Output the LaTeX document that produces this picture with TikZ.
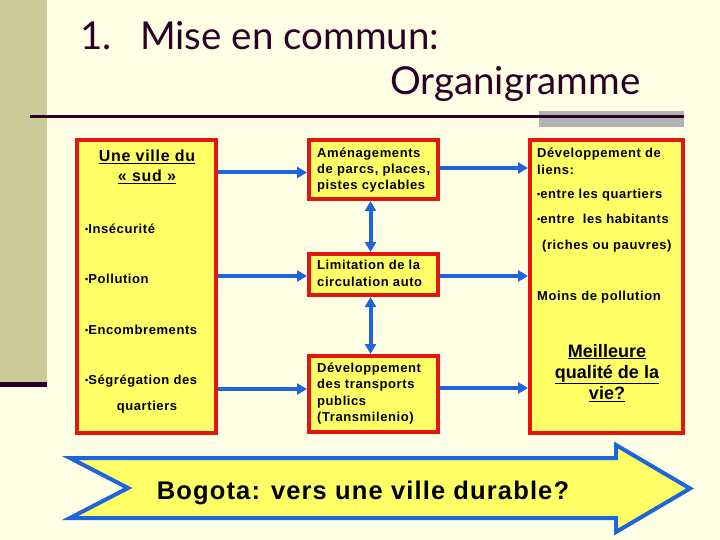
\documentclass[tikz,border=0pt]{standalone}
\usepackage{fontspec}
\setmainfont{Liberation Sans}
\newfontfamily\boxfont[LetterSpace=4.5]{Liberation Sans}
\newfontfamily\plainfont{Liberation Sans}
\newfontfamily\titlefont{Lato}
\usetikzlibrary{arrows.meta,calc}
\definecolor{bgcream}{RGB}{255,255,229}
\definecolor{bartan}{RGB}{204,204,153}
\definecolor{darkplum}{RGB}{45,0,40}
\definecolor{greybar}{RGB}{178,178,178}
\definecolor{boxred}{RGB}{228,22,12}
\definecolor{boxyellow}{RGB}{255,255,102}
\definecolor{arrblue}{RGB}{30,100,220}
\newcommand{\smbul}{\raisebox{0.6pt}{\fontsize{9}{9}\selectfont•}}
\tikzset{
  box/.style={draw=boxred, line width=4pt, fill=boxyellow, inner sep=0pt},
  btxt/.style={inner sep=0pt, anchor=base west, font=\boxfont\bfseries\fontsize{13}{16}\selectfont},
  ctxt/.style={inner sep=0pt, anchor=base, font=\boxfont\bfseries\fontsize{13}{16}\selectfont},
  big/.style={inner sep=0pt, anchor=base, font=\plainfont\bfseries\fontsize{18}{20}\selectfont},
  ttl/.style={inner sep=0pt, anchor=base west, text=darkplum, font=\titlefont\fontsize{38.5}{40}\selectfont},
  arr/.style={draw=arrblue, line width=4pt, -{Triangle[length=10pt,width=11pt]}},
  darr/.style={draw=arrblue, line width=4pt, {Triangle[length=10pt,width=11pt]}-{Triangle[length=10pt,width=11pt]}}
}
\begin{document}
\begin{tikzpicture}[x=1pt,y=-1pt]
\useasboundingbox (0,0) rectangle (720,540);
\fill[bgcream] (0,0) rectangle (720,540);
% left bar
\fill[bartan] (0,0) rectangle (47,383);
\fill[darkplum] (0,382) rectangle (47,387);
% title rule
\fill[greybar] (539,111) rectangle (684,127);
\draw[darkplum, line width=3pt] (30,117) -- (684,117);
% title
\node[ttl] (t1) at (80,50) {1.};
\node[ttl] (t2) at (140,50) {Mise en commun:};
\node[ttl] (t3) at (390,95) {Organigramme};
% boxes
\node[box, minimum width=139pt, minimum height=293pt] (L) at (146.5,286.5) {};
\node[box, minimum width=129pt, minimum height=59pt] (M1) at (373.5,169.5) {};
\node[box, minimum width=129pt, minimum height=41pt] (M2) at (373.5,274.5) {};
\node[box, minimum width=129pt, minimum height=76pt] (M3) at (373.5,394) {};
\node[box, minimum width=153pt, minimum height=293pt] (R) at (606.5,286.5) {};
% left box text
\node[ctxt, font=\boxfont\bfseries\fontsize{16}{18}\selectfont] (l1) at (147,161.5) {\underline{Une ville du}};
\node[ctxt, font=\boxfont\bfseries\fontsize{16}{18}\selectfont] (l2) at (147,181.5) {\underline{« sud »}};
\node[btxt] (l3) at (85,233.5) {\smbul Insécurité};
\node[btxt] (l4) at (85,283.5) {\smbul Pollution};
\node[btxt] (l5) at (85,334) {\smbul Encombrements};
\node[btxt] (l6) at (85,384) {\smbul Ségrégation des};
\node[ctxt] (l7) at (147,410) {quartiers};
% middle texts
\node[btxt] (a1) at (317,157.5) {Aménagements};
\node[btxt] (a2) at (317,173.5) {de parcs, places,};
\node[btxt] (a3) at (317,189.5) {pistes cyclables};
\node[btxt] (b1) at (317,269.5) {Limitation de la};
\node[btxt] (b2) at (317,286.5) {circulation auto};
\node[btxt] (c1) at (317,372) {Développement};
\node[btxt] (c2) at (317,388.5) {des transports};
\node[btxt] (c3) at (317,405) {publics};
\node[btxt] (c4) at (317,421.5) {(Transmilenio)};
% right texts
\node[btxt] (r1) at (537,157.5) {Développement de};
\node[btxt] (r2) at (537,174.5) {liens:};
\node[btxt] (r3) at (537,198.5) {\smbul entre les quartiers};
\node[btxt] (r4) at (537,223.5) {\smbul entre \ les habitants};
\node[btxt] (r5) at (542,249) {(riches ou pauvres)};
\node[btxt] (r6) at (537,300) {Moins de pollution};
\node[big] (r7) at (607,357) {\underline{Meilleure}};
\node[big] (r8) at (607,378.5) {\underline{qualité de la}};
\node[big] (r9) at (607,399.5) {\underline{vie?}};
% arrows left -> middle
\draw[arr] (L.east |- {$(M1.west)+(0,3)$}) -- ($(M1.west)+(0,3)$);
\draw[arr] (L.east |- {$(M2.west)+(0,1.5)$}) -- ($(M2.west)+(0,1.5)$);
\draw[arr] (L.east |- {$(M3.west)+(0,-5)$}) -- ($(M3.west)+(0,-5)$);
% arrows middle -> right
\draw[arr] ($(M1.east)+(0,-1.5)$) -- (R.west |- {$(M1.east)+(0,-1.5)$});
\draw[arr] ($(M2.east)+(0,1.5)$) -- (R.west |- {$(M2.east)+(0,1.5)$});
\draw[arr] ($(M3.east)+(0,-6)$) -- (R.west |- {$(M3.east)+(0,-6)$});
% vertical double arrows
\draw[darr] ($(M1.south)+(-3,0)$) -- ($(M2.north)+(-3,0)$);
\draw[darr] ($(M2.south)+(-3,0)$) -- ($(M3.north)+(-3,0)$);
% big arrow
\draw[draw=arrblue, line width=4pt, fill=boxyellow, line join=miter]
  (70,458) -- (616,458) -- (616,445) -- (690,488.5) -- (616,532) -- (616,518) -- (70,518) -- (128,488) -- cycle;
\node[inner sep=0pt, anchor=base, font=\boxfont\bfseries\fontsize{25.5}{27}\selectfont] (bog) at (363,499) {Bogota: vers une ville durable?};
\end{tikzpicture}
\end{document}
